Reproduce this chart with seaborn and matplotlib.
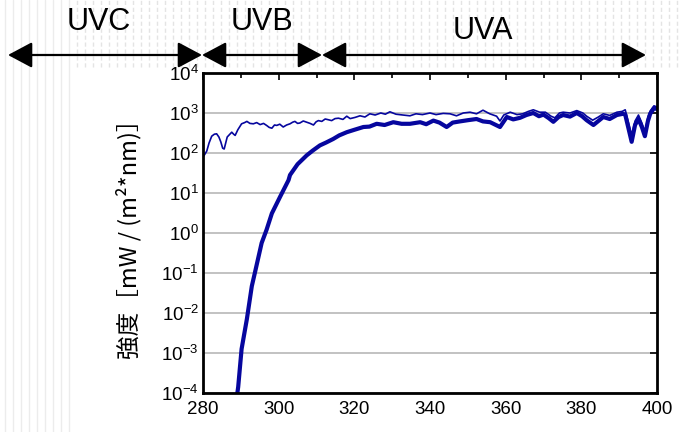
import numpy as np
import matplotlib
matplotlib.use("Agg")
import matplotlib.pyplot as plt
from matplotlib.lines import Line2D
from matplotlib.patches import FancyArrowPatch
from matplotlib.ticker import LogLocator, MultipleLocator, NullLocator
import seaborn as sns

# ground-level solar UV spectrum (thick) and top-of-atmosphere spectrum (thin)
# intensities as log10(mW / (m^2 nm))
ground_nm = [288.5, 289.3, 290.2, 291.6, 292.9, 293.7, 295.5, 296.8, 298.2, 300.4,
             302.6, 303.0, 305.0, 307.4, 309.0, 310.9, 312.5, 314.4, 316.0, 318.0,
             320.0, 322.4, 324.0, 325.9, 328.0, 330.3, 332.5, 334.7, 337.4, 339.0,
             340.9, 342.5, 344.4, 346.0, 347.9, 350.0, 352.3, 354.0, 355.9, 357.2,
             358.5, 360.3, 362.0, 363.8, 365.5, 367.3, 368.8, 370.0, 371.4, 372.6,
             374.0, 375.2, 377.0, 378.8, 380.2, 381.4, 383.2, 384.5, 385.8, 387.5,
             389.4, 391.0, 391.6, 392.5, 393.3, 394.2, 395.1, 396.0, 396.8, 397.6,
             398.2, 399.2, 400.0]
ground_log = [-4.4, -3.85, -2.9, -2.15, -1.33, -1.0, -0.25, 0.08, 0.49, 0.91,
              1.32, 1.45, 1.72, 1.94, 2.06, 2.19, 2.26, 2.35, 2.44, 2.52,
              2.58, 2.65, 2.66, 2.73, 2.70, 2.77, 2.73, 2.73, 2.77, 2.72,
              2.81, 2.76, 2.65, 2.76, 2.79, 2.82, 2.85, 2.79, 2.77, 2.71,
              2.65, 2.90, 2.84, 2.88, 2.95, 3.00, 2.92, 2.96, 2.87, 2.78,
              2.90, 2.95, 2.91, 3.00, 2.92, 2.82, 2.70, 2.80, 2.90, 2.85,
              2.95, 2.98, 2.96, 2.60, 2.28, 2.70, 2.85, 2.65, 2.42, 2.80,
              2.98, 3.12, 3.10]

space_nm = [280.0, 280.5, 281.0, 281.6, 282.3, 283.0, 283.6, 284.2, 284.7, 285.2,
            285.6, 286.0, 286.4, 287.0, 287.6, 288.1, 288.5, 289.2, 290.2, 291.0,
            291.6, 292.4, 293.3, 294.2, 295.1, 296.0, 296.8, 297.5, 298.2, 298.9,
            299.5, 300.3, 301.2, 302.1, 303.0, 303.7, 304.3, 305.0, 305.6, 306.5,
            307.4, 308.3, 309.2, 309.9, 310.5, 311.4, 312.3, 313.2, 314.0, 314.9,
            315.8, 317.0, 318.0, 318.9, 320.2, 321.5, 322.8, 324.1, 325.5, 327.0,
            328.2, 329.4, 331.0, 332.8, 334.7, 336.3, 338.0, 340.0, 341.6, 343.5,
            345.3, 347.0, 348.8, 350.6, 352.3, 354.0, 355.8, 357.6, 358.5, 359.5,
            361.2, 363.0, 364.5, 366.0, 367.3, 369.0, 370.5, 372.0, 373.0, 374.2,
            375.2, 377.0, 378.8, 380.4, 381.4, 383.0, 384.5, 385.8, 387.5, 389.4,
            390.8, 391.6, 392.5, 393.3, 394.2, 395.1, 396.0, 396.8, 397.6, 398.2,
            399.2, 400.0]
space_log = [1.90, 1.97, 2.05, 2.25, 2.42, 2.47, 2.48, 2.40, 2.28, 2.12,
             2.10, 2.25, 2.40, 2.46, 2.52, 2.47, 2.44, 2.58, 2.73, 2.76,
             2.79, 2.74, 2.73, 2.76, 2.71, 2.74, 2.69, 2.64, 2.62, 2.70,
             2.69, 2.72, 2.65, 2.70, 2.73, 2.77, 2.79, 2.74, 2.75, 2.80,
             2.77, 2.74, 2.70, 2.78, 2.81, 2.79, 2.85, 2.83, 2.81, 2.86,
             2.87, 2.84, 2.92, 2.86, 2.89, 2.93, 2.90, 2.98, 2.95, 3.00,
             2.97, 3.03, 2.97, 2.95, 2.93, 2.98, 2.96, 3.00, 2.96, 2.99,
             2.98, 2.93, 3.00, 3.02, 2.98, 3.07, 2.98, 2.92, 2.80, 2.95,
             3.02, 2.96, 2.98, 3.04, 3.08, 3.02, 3.02, 2.92, 2.88, 3.00,
             3.02, 3.00, 3.06, 3.00, 2.92, 2.82, 2.90, 2.98, 2.94, 3.02,
             3.04, 3.08, 2.75, 2.45, 2.80, 2.95, 2.75, 2.52, 2.90, 3.05,
             3.18, 3.15]

bands = ["UVC", "UVB", "UVA"]
band_edges_px = [8, 202, 322, 646]     # arrow ends, figure pixels from left
band_label_px = [(99, 22), (262, 22), (483, 31)]

LINE_COLOR = "#06069e"
W, H = 680, 432

sns.set_style("white")
plt.rcParams.update({
    "font.family": ["Liberation Sans", "DejaVu Sans"],
    "mathtext.fontset": "custom",
    "mathtext.rm": "Liberation Sans",
    "text.color": "black",
    "xtick.color": "black",
    "ytick.color": "black",
    "axes.labelcolor": "black",
})

fig = plt.figure(figsize=(W / 100, H / 100), dpi=100)
ax = fig.add_axes([203 / W, 1 - 393 / H, 454 / W, 320 / H])

# striped background around the pasted chart
for x in range(5, W, 8):
    if x < 72:
        fig.add_artist(Line2D([x / W, x / W], [0, 1], color="#ececec",
                              lw=1.0, zorder=0))
    else:
        fig.add_artist(Line2D([x / W, x / W], [1 - 67 / H, 1], color="#e4e4e4",
                              lw=1.0, ls=(0, (3, 2)), zorder=0))

sns.lineplot(x=space_nm, y=10 ** np.array(space_log), ax=ax, color=LINE_COLOR,
             lw=1.2, sort=False, estimator=None)
sns.lineplot(x=ground_nm, y=10 ** np.array(ground_log), ax=ax, color=LINE_COLOR,
             lw=3.0, sort=False, estimator=None)

ax.set_yscale("log")
ax.set_xlim(280, 400)
ax.set_ylim(1e-4, 1e4)
ax.xaxis.set_major_locator(MultipleLocator(20))
ax.xaxis.set_minor_locator(MultipleLocator(10))
ax.yaxis.set_major_locator(LogLocator(base=10, numticks=12))
ax.yaxis.set_minor_locator(NullLocator())
ax.grid(axis="y", which="major", color="#b8b8b8", lw=1.2)
ax.set_axisbelow(True)
ax.tick_params(which="both", direction="in", top=True, right=True,
               width=1.2, labelsize=13.5)
ax.tick_params(axis="x", pad=6)
ax.tick_params(axis="y", pad=3)
ax.tick_params(which="major", length=5)
ax.tick_params(which="minor", length=3.5)
for s in ax.spines.values():
    s.set_visible(True)
    s.set_color("black")
    s.set_linewidth(2.0)

ax.xaxis.label.set_visible(False)
ax.set_ylabel("強度［mW / (m²*nm)］", fontsize=17,
              family=["Noto Sans CJK JP", "DejaVu Sans"], labelpad=14)

# UV band arrows and labels
ay = 1 - 55 / H
for i, name in enumerate(bands):
    x0 = band_edges_px[i] / W
    x1 = band_edges_px[i + 1] / W
    fig.add_artist(FancyArrowPatch(
        (x0, ay), (x1, ay), transform=fig.transFigure,
        arrowstyle="<|-|>,head_length=0.75,head_width=0.4",
        mutation_scale=20, color="black", lw=1.6, shrinkA=0, shrinkB=0))
    lx, ly = band_label_px[i]
    fig.text(lx / W, 1 - ly / H, name, ha="center", va="center", fontsize=22)

fig.savefig("out.png", dpi=100)
